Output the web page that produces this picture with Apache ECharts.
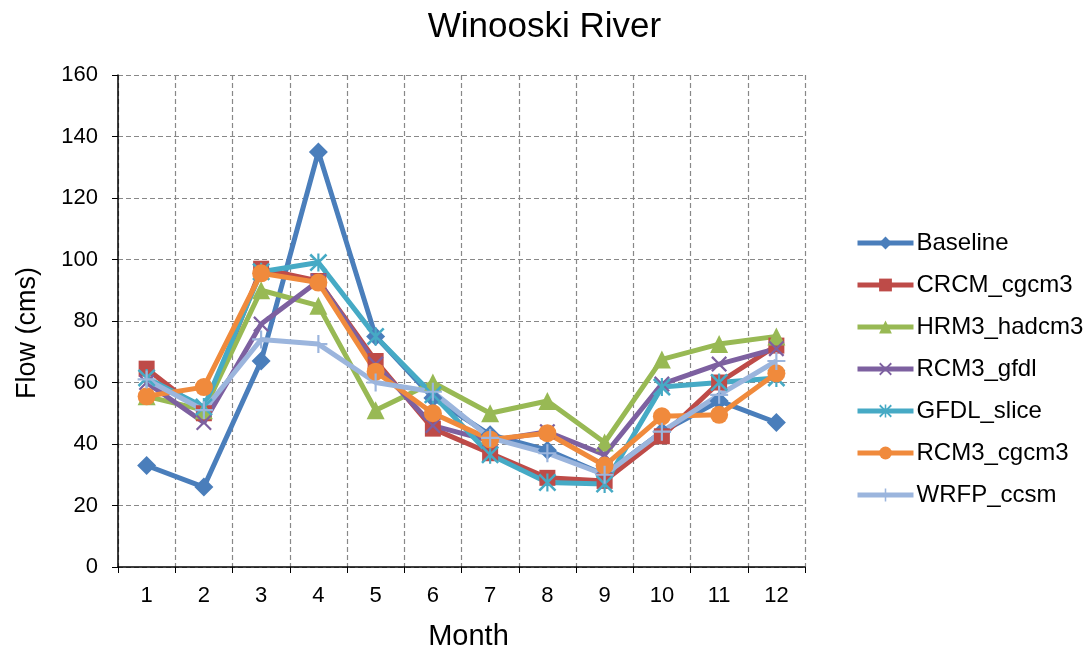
<!DOCTYPE html>
<html>
<head>
<meta charset="utf-8">
<title>Winooski River</title>
<script src="https://cdn.jsdelivr.net/npm/echarts@6/dist/echarts.min.js"></script>
<style>
  html, body { margin: 0; padding: 0; background: #fff; }
  #chart { width: 1089px; height: 656px; }
</style>
</head>
<body>
<div id="chart"></div>
<script>
  // months on the x axis
  const months = ['1', '2', '3', '4', '5', '6', '7', '8', '9', '10', '11', '12'];

  // monthly flow (cms)
  const baseline   = [33, 26, 67, 135, 75, 55, 43, 38, 30, 44, 54, 47];
  const crcmCgcm3  = [64.5, 50, 97, 93, 67, 45, 37, 29, 28, 42.5, 60, 72];
  const hrm3Hadcm3 = [55.5, 51, 90, 85, 51, 60, 50, 54, 40.5, 67.5, 72.5, 75];
  const rcm3Gfdl   = [60, 47, 79, 93, 66, 46, 41, 44, 36.5, 59.5, 66, 71];
  const gfdlSlice  = [61.5, 52, 96, 99, 75, 56, 36.5, 27.5, 27, 58.5, 60, 61.5];
  const rcm3Cgcm3  = [55.5, 58.5, 95.5, 92.5, 63.5, 50, 41.5, 43.5, 33, 49, 49.5, 63];
  const wrfpCcsm   = [61, 51, 74, 72.5, 60, 57, 42, 37, 30, 44, 56, 67];

  const yTicks = [0, 20, 40, 60, 80, 100, 120, 140, 160];

  // marker shapes Excel uses that echarts does not have
  const xMark = 'path://M0,1L1,0L5,4L9,0L10,1L6,5L10,9L9,10L5,6L1,10L0,9L4,5Z';
  const starMark = 'path://M0,1L1,0L5,4L9,0L10,1L6,5L10,9L9,10L5,6L1,10L0,9L4,5Z M4.4,0L5.6,0L5.6,10L4.4,10Z';
  const plusMark = 'path://M4.4,0L5.6,0L5.6,4.4L10,4.4L10,5.6L5.6,5.6L5.6,10L4.4,10L4.4,5.6L0,5.6L0,4.4L4.4,4.4Z';

  const font = '"Liberation Sans", Arial, sans-serif';

  function line(name, data, color, symbol, size) {
    return {
      name: name,
      type: 'line',
      data: data,
      symbol: symbol,
      symbolSize: size,
      lineStyle: { color: color, width: 5 },
      itemStyle: { color: color },
      emphasis: { disabled: true },
      z: 3
    };
  }

  const chart = echarts.init(document.getElementById('chart'));

  chart.setOption({
    animation: false,
    textStyle: { fontFamily: font },
    title: {
      text: 'Winooski River',
      left: 'center',
      top: 5,
      textStyle: { fontFamily: font, fontSize: 35, fontWeight: 'normal', color: '#000' }
    },
    legend: {
      orient: 'vertical',
      left: 850,
      top: 226,
      itemWidth: 56,
      itemHeight: 16,
      itemGap: 18,
      lineStyle: { width: 5 },
      textStyle: { fontFamily: font, fontSize: 24, color: '#000', lineHeight: 24, padding: [0, 0, 0, -2] },
      data: ['Baseline', 'CRCM_cgcm3', 'HRM3_hadcm3', 'RCM3_gfdl', 'GFDL_slice', 'RCM3_cgcm3', 'WRFP_ccsm']
    },
    grid: {
      left: 118,
      right: 284,
      top: 75,
      bottom: 89,
      outerBoundsMode: 'none'
    },
    xAxis: {
      type: 'category',
      data: months,
      boundaryGap: true,
      name: 'Month',
      nameLocation: 'middle',
      nameGap: 55,
      nameTextStyle: { fontFamily: font, fontSize: 29, color: '#000', padding: [0, 0, 0, 14] },
      axisLine: { lineStyle: { color: '#000', width: 1.5 } },
      axisTick: { show: true, length: 6, lineStyle: { color: '#000' } },
      axisLabel: { fontFamily: font, fontSize: 22, color: '#000', margin: 18 },
      splitLine: { show: true, lineStyle: { color: '#888', type: [5, 3], width: 1.2 } }
    },
    yAxis: {
      type: 'value',
      min: yTicks[0],
      max: yTicks[yTicks.length - 1],
      interval: 20,
      name: 'Flow (cms)',
      nameLocation: 'middle',
      nameGap: 77,
      nameTextStyle: { fontFamily: font, fontSize: 27, color: '#000', padding: [0, 24, 0, 0] },
      axisLine: { show: true, lineStyle: { color: '#000', width: 1.5 } },
      axisTick: { show: true, length: 6, lineStyle: { color: '#000' } },
      axisLabel: { fontFamily: font, fontSize: 22, color: '#000', margin: 20 },
      splitLine: { show: true, lineStyle: { color: '#888', type: [5, 3], width: 1.2 } }
    },
    series: [
      line('Baseline', baseline, '#4a7ebb', 'diamond', 19),
      line('CRCM_cgcm3', crcmCgcm3, '#be4b48', 'rect', 16),
      line('HRM3_hadcm3', hrm3Hadcm3, '#98b954', 'triangle', 18),
      line('RCM3_gfdl', rcm3Gfdl, '#7d60a0', xMark, 16),
      line('GFDL_slice', gfdlSlice, '#46aac5', starMark, 18),
      line('RCM3_cgcm3', rcm3Cgcm3, '#f08a3c', 'circle', 18),
      line('WRFP_ccsm', wrfpCcsm, '#9bb5dd', plusMark, 18)
    ]
  });

  window.addEventListener('resize', () => chart.resize());
</script>
</body>
</html>
